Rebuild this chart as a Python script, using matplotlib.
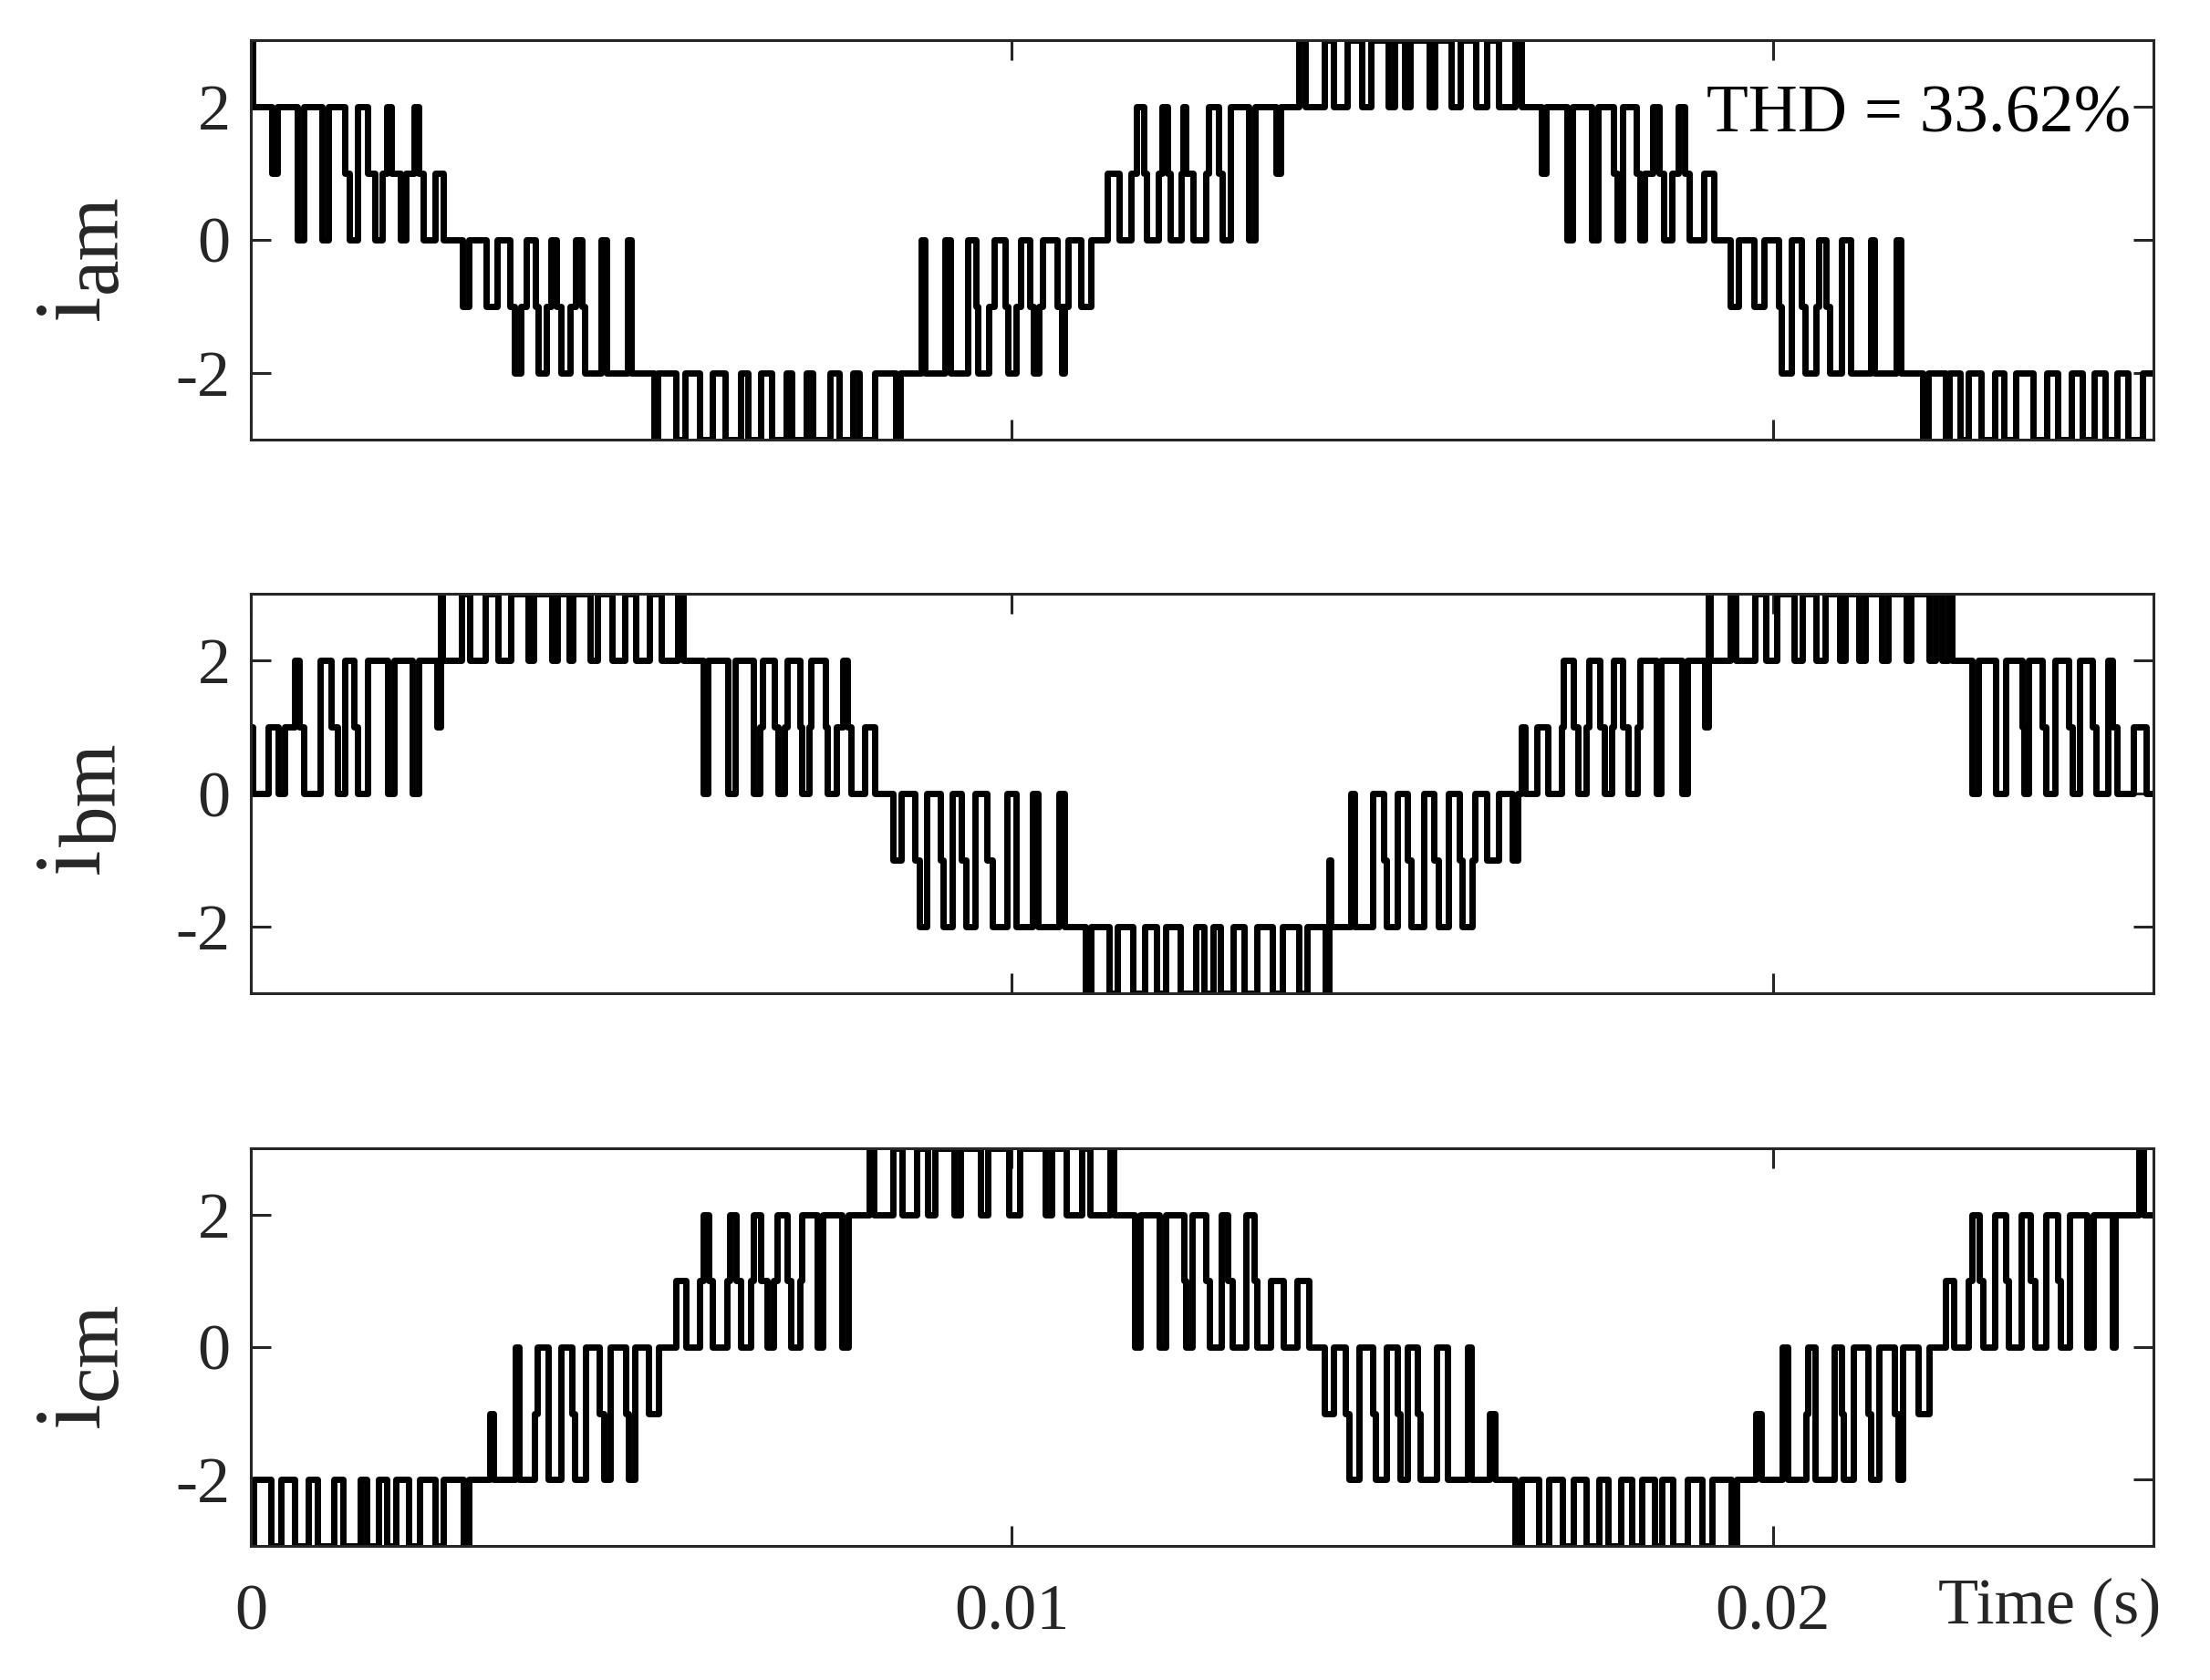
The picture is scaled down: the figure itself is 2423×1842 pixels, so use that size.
import matplotlib
matplotlib.use('Agg')
import matplotlib.pyplot as plt
import numpy as np

plt.rcParams['font.family'] = ['Liberation Serif', 'DejaVu Serif']
plt.rcParams['axes.unicode_minus'] = False

# ---------------- data ----------------
time_ticks = [0, 0.01, 0.02]
time_tick_labels = ['0', '0.01', '0.02']
y_ticks = [-2, 0, 2]
y_tick_labels = ['-2', '0', '2']
t_end_ms = 25.0
thd_text = 'THD = 33.62%'
x_label = 'Time (s)'
label_main = ['i', 'i', 'i']
label_sub = ['am', 'bm', 'cm']

# switching events: (time in ms, new level)
i_am = [
    (0, 3), (0.02, 2), (0.28, 1), (0.35, 2), (0.61, 0), (0.69, 2), (0.93, 0), (1.02, 2),
    (1.23, 1), (1.29, 0), (1.40, 2), (1.53, 1), (1.63, 0), (1.73, 1), (1.79, 2),
    (1.85, 1), (1.97, 0), (2.04, 1), (2.15, 2), (2.21, 1), (2.27, 0), (2.42, 1), (2.53, 0),
    (2.78, -1), (2.87, 0), (3.09, -1), (3.23, 0), (3.40, -1), (3.46, -2), (3.55, -1), (3.62, 0),
    (3.74, -1), (3.78, -2), (3.88, -1), (3.94, 0), (4.01, -1), (4.08, -2), (4.20, -1), (4.27, 0),
    (4.35, -1), (4.39, -2), (4.60, 0), (4.68, -2), (4.95, 0), (5.00, -2),
    (5.30, -3), (5.35, -2), (5.59, -3), (5.70, -2), (5.90, -3), (6.07, -2), (6.23, -3), (6.43, -2),
    (6.53, -3), (6.70, -2), (6.84, -3), (7.03, -2), (7.11, -3), (7.30, -2), (7.38, -3), (7.61, -2),
    (7.73, -3), (7.91, -2), (7.99, -3), (8.20, -2), (8.47, -3), (8.53, -2),
    (8.81, 0), (8.86, -2), (9.12, 0), (9.19, -2), (9.42, 0), (9.53, -1), (9.55, -2), (9.69, -1), (9.77, 0),
    (9.91, -1), (9.95, -2), (10.06, -1), (10.12, 0), (10.24, -1), (10.28, -2), (10.36, -1), (10.40, 0),
    (10.59, -1), (10.65, -2), (10.69, -1), (10.74, 0), (10.91, -1), (11.04, 0),
    (11.25, 1), (11.41, 0), (11.56, 1), (11.64, 2), (11.73, 1), (11.77, 0), (11.93, 1), (11.97, 2),
    (12.05, 1), (12.08, 0), (12.22, 1), (12.25, 2), (12.28, 1), (12.38, 0), (12.55, 1), (12.58, 2),
    (12.72, 1), (12.76, 0), (12.87, 2), (13.11, 0), (13.19, 2), (13.47, 1), (13.53, 2),
    (13.77, 3), (13.86, 2), (14.10, 3), (14.23, 2), (14.41, 3), (14.60, 2), (14.72, 3), (14.95, 2),
    (15.03, 3), (15.16, 2), (15.23, 3), (15.48, 2), (15.56, 3), (15.77, 2), (15.89, 3), (16.10, 2),
    (16.24, 3), (16.39, 2), (16.61, 3), (16.70, 2),
    (16.96, 1), (17.02, 2), (17.29, 0), (17.36, 2), (17.62, 0), (17.70, 2), (17.91, 1), (17.95, 0), (18.03, 2),
    (18.21, 1), (18.25, 0), (18.31, 1), (18.42, 2), (18.50, 1), (18.56, 0), (18.67, 1), (18.76, 2),
    (18.84, 1), (18.90, 0), (19.09, 1), (19.22, 0),
    (19.44, -1), (19.55, 0), (19.75, -1), (19.88, 0), (20.08, -1), (20.11, -2), (20.24, 0),
    (20.37, -1), (20.42, -2), (20.56, -1), (20.60, 0), (20.70, -1), (20.75, -2), (20.90, 0),
    (21.02, -2), (21.28, 0), (21.33, -2), (21.62, 0), (21.68, -2),
    (21.97, -3), (22.04, -2), (22.27, -3), (22.32, -2), (22.46, -3), (22.57, -2), (22.74, -3), (22.91, -2),
    (23.04, -3), (23.19, -2), (23.42, -3), (23.60, -2), (23.74, -3), (23.92, -2), (24.06, -3), (24.22, -2),
    (24.36, -3), (24.52, -2), (24.66, -3), (24.86, -2),
]

i_bm = [
    (0, 1), (0.02, 0), (0.23, 1), (0.36, 0), (0.44, 1), (0.58, 2), (0.64, 1), (0.70, 0), (0.91, 2),
    (1.06, 1), (1.14, 0), (1.24, 2), (1.35, 1), (1.40, 0), (1.53, 2), (1.80, 0), (1.88, 2),
    (2.12, 0), (2.20, 2), (2.44, 1), (2.49, 3), (2.52, 2),
    (2.77, 3), (2.88, 2), (3.08, 3), (3.25, 2), (3.41, 3), (3.64, 2), (3.72, 3), (3.95, 2),
    (4.03, 3), (4.18, 2), (4.23, 3), (4.46, 2), (4.56, 3), (4.75, 2), (4.91, 3), (5.06, 2),
    (5.24, 3), (5.39, 2), (5.61, 3), (5.68, 2),
    (5.94, 0), (6.01, 2), (6.27, 0), (6.36, 2), (6.60, 0), (6.69, 1), (6.72, 2),
    (6.88, 1), (6.93, 0), (7.01, 1), (7.05, 2), (7.21, 1), (7.24, 0), (7.33, 1), (7.36, 2),
    (7.55, 1), (7.58, 0), (7.70, 1), (7.78, 2), (7.84, 1), (7.88, 0), (8.06, 1), (8.20, 0),
    (8.44, -1), (8.54, 0), (8.72, -1), (8.78, -2), (8.88, 0), (9.06, -1), (9.10, -2), (9.22, 0),
    (9.34, -1), (9.40, -2), (9.52, 0), (9.67, -1), (9.74, -2), (9.93, 0),
    (10.06, -2), (10.27, 0), (10.34, -2), (10.62, 0), (10.69, -2),
    (10.97, -3), (11.04, -2), (11.28, -3), (11.39, -2), (11.59, -3), (11.74, -2), (11.90, -3), (12.02, -2),
    (12.21, -3), (12.42, -2), (12.52, -3), (12.64, -2), (12.74, -3), (12.91, -2), (13.05, -3), (13.22, -2),
    (13.42, -3), (13.55, -2), (13.77, -3), (13.88, -2), (14.12, -3), (14.16, -1), (14.19, -2),
    (14.45, 0), (14.50, -2), (14.74, 0), (14.88, -1), (14.92, -2), (15.07, 0),
    (15.20, -1), (15.24, -2), (15.41, 0), (15.55, -1), (15.60, -2), (15.74, 0),
    (15.88, -1), (15.92, -2), (16.05, -1), (16.08, 0), (16.24, -1), (16.40, 0), (16.58, -1), (16.65, 0),
    (16.69, 1), (16.74, 0), (16.90, 1), (17.04, 0), (17.22, 1), (17.25, 2), (17.38, 1), (17.44, 0),
    (17.55, 1), (17.58, 2), (17.72, 1), (17.78, 0), (17.88, 1), (17.91, 2), (18.02, 1), (18.10, 0),
    (18.22, 1), (18.25, 2), (18.47, 0), (18.53, 2), (18.80, 0), (18.87, 2), (19.10, 1), (19.15, 3), (19.18, 2),
    (19.44, 3), (19.51, 2), (19.76, 3), (19.91, 2), (20.05, 3), (20.28, 2), (20.39, 3), (20.57, 2),
    (20.68, 3), (20.88, 2), (20.95, 3), (21.13, 2), (21.21, 3), (21.43, 2), (21.51, 3), (21.75, 2),
    (21.81, 3), (22.05, 2), (22.13, 3), (22.22, 2), (22.30, 3), (22.35, 2),
    (22.61, 0), (22.70, 2), (22.93, 0), (23.06, 2), (23.27, 1), (23.30, 0), (23.36, 2),
    (23.54, 1), (23.58, 0), (23.70, 2), (23.88, 1), (23.93, 0), (24.03, 2),
    (24.20, 1), (24.25, 0), (24.40, 2), (24.46, 1), (24.52, 0), (24.74, 1), (24.90, 0),
]

i_cm = [
    (0, -3), (0.04, -2), (0.26, -3), (0.39, -2), (0.57, -3), (0.76, -2), (0.88, -3), (1.09, -2),
    (1.21, -3), (1.44, -2), (1.52, -3), (1.68, -2), (1.78, -3), (1.91, -2), (2.07, -3), (2.22, -2),
    (2.42, -3), (2.53, -2), (2.79, -3), (2.86, -2),
    (3.14, -1), (3.19, -2), (3.47, 0), (3.52, -2), (3.73, -1), (3.76, 0), (3.91, -2), (4.07, 0),
    (4.22, -1), (4.26, -2), (4.40, 0), (4.58, -1), (4.64, -2), (4.72, 0), (4.92, -1), (4.96, -2),
    (5.04, 0), (5.23, -1), (5.36, 0),
    (5.59, 1), (5.72, 0), (5.90, 1), (5.94, 2), (6.02, 1), (6.07, 0), (6.25, 1), (6.29, 2),
    (6.38, 1), (6.43, 0), (6.57, 1), (6.60, 2), (6.70, 1), (6.78, 0), (6.87, 1), (6.91, 2),
    (7.05, 1), (7.10, 0), (7.21, 1), (7.24, 2), (7.44, 0), (7.51, 2), (7.77, 0), (7.85, 2),
    (8.13, 3), (8.19, 2), (8.44, 3), (8.56, 2), (8.75, 3), (8.89, 2), (8.99, 3), (9.24, 2),
    (9.33, 3), (9.59, 2), (9.68, 3), (9.96, 2), (10.10, 3), (10.44, 2), (10.52, 3), (10.71, 2),
    (10.92, 3), (11.03, 2), (11.29, 3), (11.34, 2),
    (11.61, 0), (11.69, 2), (11.94, 0), (12.02, 2), (12.26, 1), (12.29, 0), (12.37, 2),
    (12.55, 1), (12.59, 0), (12.75, 2), (12.84, 1), (12.90, 0), (13.07, 2), (13.18, 1), (13.22, 0),
    (13.40, 1), (13.57, 0), (13.75, 1), (13.90, 0),
    (14.10, -1), (14.23, 0), (14.38, -1), (14.43, -2), (14.56, 0), (14.74, -1), (14.78, -2), (14.92, 0),
    (15.06, -1), (15.10, -2), (15.20, 0), (15.33, -1), (15.37, -2), (15.58, 0), (15.72, -2),
    (15.99, 0), (16.03, -2), (16.27, -1), (16.35, -2),
    (16.61, -3), (16.70, -2), (16.92, -3), (17.05, -2), (17.23, -3), (17.38, -2), (17.54, -3), (17.71, -2),
    (17.83, -3), (18.00, -2), (18.14, -3), (18.28, -2), (18.45, -3), (18.54, -2), (18.68, -3), (18.88, -2),
    (19.07, -3), (19.20, -2), (19.45, -3), (19.52, -2),
    (19.78, -1), (19.85, -2), (20.12, 0), (20.19, -2), (20.43, -1), (20.46, 0), (20.55, -2), (20.80, 0),
    (20.90, -1), (20.93, -2), (21.06, 0), (21.25, -1), (21.28, -2), (21.39, 0), (21.60, -1), (21.64, -2),
    (21.71, 0), (21.91, -1), (22.05, 0),
    (22.27, 1), (22.38, 0), (22.57, 1), (22.62, 2), (22.71, 1), (22.76, 0), (22.92, 2), (23.06, 1),
    (23.10, 0), (23.26, 2), (23.38, 1), (23.44, 0), (23.59, 2), (23.74, 1), (23.78, 0), (23.90, 2),
    (24.12, 0), (24.21, 2), (24.46, 0), (24.50, 2), (24.81, 3), (24.87, 2),
]

signals = [i_am, i_bm, i_cm]

# ---------------- layout ----------------
W, H = 2423, 1842
fig = plt.figure(figsize=(W / 100, H / 100), dpi=100)
left_px, right_px = 275, 2361
panel_px = [(44, 482), (651, 1089), (1259, 1695)]

axes = []
for (top, bot) in panel_px:
    ax = fig.add_axes([left_px / W, 1 - bot / H, (right_px - left_px) / W, (bot - top) / H])
    axes.append(ax)

for k, (ax, sig) in enumerate(zip(axes, signals)):
    t = [p[0] for p in sig] + [t_end_ms]
    v = [p[1] for p in sig] + [sig[-1][1]]
    t = np.array(t) / 1000.0
    ax.step(t, v, where='post', color='black', lw=5.0,
            solid_joinstyle='round', solid_capstyle='round', clip_on=True)
    ax.set_xlim(0, t_end_ms / 1000.0)
    ax.set_ylim(-3, 3)
    ax.set_yticks(y_ticks)
    ax.set_yticklabels(y_tick_labels)
    ax.set_xticks(time_ticks)
    if k == 2:
        ax.set_xticklabels(time_tick_labels)
    else:
        ax.set_xticklabels([])
    ax.tick_params(direction='in', length=16, width=2.2, top=True, right=True,
                   labelsize=52, colors='#262626')
    ax.tick_params(axis='y', pad=16)
    ax.tick_params(axis='x', pad=30)
    for s in ax.spines.values():
        s.set_linewidth(2.2)
        s.set_color('#262626')

    # rotated y label "i" with a large subscript
    top, bot = panel_px[k]
    yc = (top + bot) / 2.0
    y_start = yc + 88
    fig.text(108 / W, 1 - y_start / H, label_main[k], fontsize=74, rotation=90,
             rotation_mode='anchor', ha='left', va='baseline', color='#262626')
    fig.text(127 / W, 1 - (y_start - 30) / H, label_sub[k], fontsize=64, rotation=90,
             rotation_mode='anchor', ha='left', va='baseline', color='#262626')

axes[0].text(0.0247, 1.63, thd_text, fontsize=54, ha='right', va='baseline', color='black')
fig.text(2369 / W, 1 - 1780 / H, x_label, fontsize=52, ha='right', va='baseline', color='#262626')

fig.savefig('out.png', dpi=100)
